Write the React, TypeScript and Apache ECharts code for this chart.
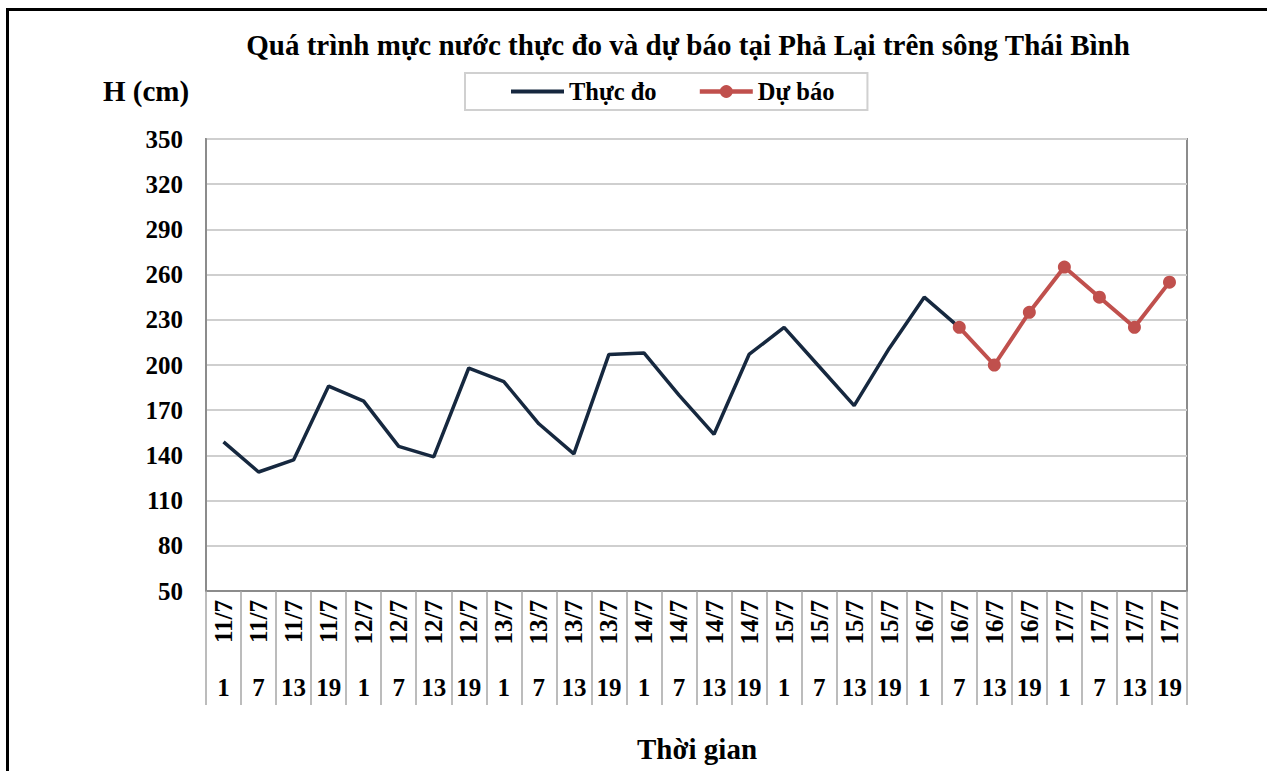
import React, { useEffect, useRef } from "react";
import * as echarts from "echarts";

const days = ["11/7","11/7","11/7","11/7","12/7","12/7","12/7","12/7","13/7","13/7","13/7","13/7","14/7","14/7","14/7","14/7","15/7","15/7","15/7","15/7","16/7","16/7","16/7","16/7","17/7","17/7","17/7","17/7"];
const hours = ["1","7","13","19","1","7","13","19","1","7","13","19","1","7","13","19","1","7","13","19","1","7","13","19","1","7","13","19"];
const observed: (number | null)[] = [149,129,137,186,176,146,139,198,189,161,141,207,208,180,154,207,225,199,173,211,245,225,null,null,null,null,null,null];
const forecast: (number | null)[] = [null,null,null,null,null,null,null,null,null,null,null,null,null,null,null,null,null,null,null,null,null,225,200,235,265,245,225,255];
const yTicks = { min: 50, max: 350, interval: 30 };

const FONT = "'Liberation Serif', 'Times New Roman', serif";

export default function App() {
  const ref = useRef<HTMLDivElement>(null);
  useEffect(() => {
    if (!ref.current) return;
    const chart = echarts.init(ref.current, null, { renderer: "svg" });
    const txt = { fontFamily: FONT, fontWeight: "bold" as const, color: "#000" };
    chart.setOption({
      animation: false,
      backgroundColor: "#fff",
      graphic: [
        {
          type: "polyline",
          shape: { points: [[7.5, 800], [7.5, 9.5], [1300, 9.5]] },
          style: { stroke: "#000", lineWidth: 3, fill: "none" },
          silent: true,
        },
        {
          type: "text",
          x: 688,
          y: 45,
          style: {
            text: "Quá trình mực nước thực đo và dự báo tại Phả Lại trên sông Thái Bình",
            font: `bold 29px ${FONT}`,
            fill: "#000",
            textAlign: "center",
            textVerticalAlign: "middle",
          },
        },
        {
          type: "text",
          x: 103,
          y: 91,
          style: {
            text: "H (cm)",
            font: `bold 29px ${FONT}`,
            fill: "#000",
            textAlign: "left",
            textVerticalAlign: "middle",
          },
        },
        {
          type: "text",
          x: 697,
          y: 749,
          style: {
            text: "Thời gian",
            font: `bold 29px ${FONT}`,
            fill: "#000",
            textAlign: "center",
            textVerticalAlign: "middle",
          },
        },
      ],
      legend: {
        left: 465,
        top: 73,
        padding: [6, 33, 6, 44],
        itemGap: 41,
        itemWidth: 53,
        itemHeight: 16,
        borderColor: "#d0d0d0",
        borderWidth: 2,
        textStyle: { ...txt, fontSize: 24.5 },
        data: [
          { name: "Thực đo", itemStyle: { opacity: 0 }, lineStyle: { width: 4 } },
          { name: "Dự báo", lineStyle: { width: 4.5 } },
        ],
      },
      grid: {
        left: 206,
        top: 139,
        width: 981,
        height: 452,
        show: true,
        borderColor: "#8c8c8c",
        borderWidth: 2,
        containLabel: false,
      },
      xAxis: [
        {
          type: "category",
          data: days,
          boundaryGap: true,
          axisLine: { lineStyle: { color: "#8c8c8c", width: 2 } },
          axisTick: { show: true, interval: 0, length: 114, lineStyle: { color: "#a6a6a6", width: 1.5 } },
          axisLabel: { ...txt, fontSize: 25, rotate: 90, interval: 0, margin: 9 },
        },
        {
          type: "category",
          data: hours,
          position: "bottom",
          boundaryGap: true,
          axisLine: { show: false },
          axisTick: { show: false },
          axisLabel: { ...txt, fontSize: 25, interval: 0, margin: 84 },
        },
      ],
      yAxis: {
        type: "value",
        min: yTicks.min,
        max: yTicks.max,
        interval: yTicks.interval,
        axisLine: { show: true, lineStyle: { color: "#8c8c8c", width: 2 } },
        axisTick: { show: false },
        axisLabel: { ...txt, fontSize: 25, margin: 23 },
        splitLine: { lineStyle: { color: "#cfcfcf", width: 2 } },
      },
      series: [
        {
          name: "Thực đo",
          type: "line",
          xAxisIndex: 0,
          data: observed,
          symbol: "none",
          lineStyle: { color: "#16283f", width: 3.5 },
          itemStyle: { color: "#16283f" },
          z: 2,
        },
        {
          name: "Dự báo",
          type: "line",
          xAxisIndex: 0,
          data: forecast,
          symbol: "circle",
          symbolSize: 13,
          lineStyle: { color: "#c0504d", width: 4 },
          itemStyle: { color: "#c0504d" },
          z: 3,
        },
      ],
    });
    return () => chart.dispose();
  }, []);
  return (
    <div
      ref={ref}
      style={{ position: "fixed", left: 0, top: 0, width: 1267, height: 771, background: "#fff" }}
    />
  );
}
